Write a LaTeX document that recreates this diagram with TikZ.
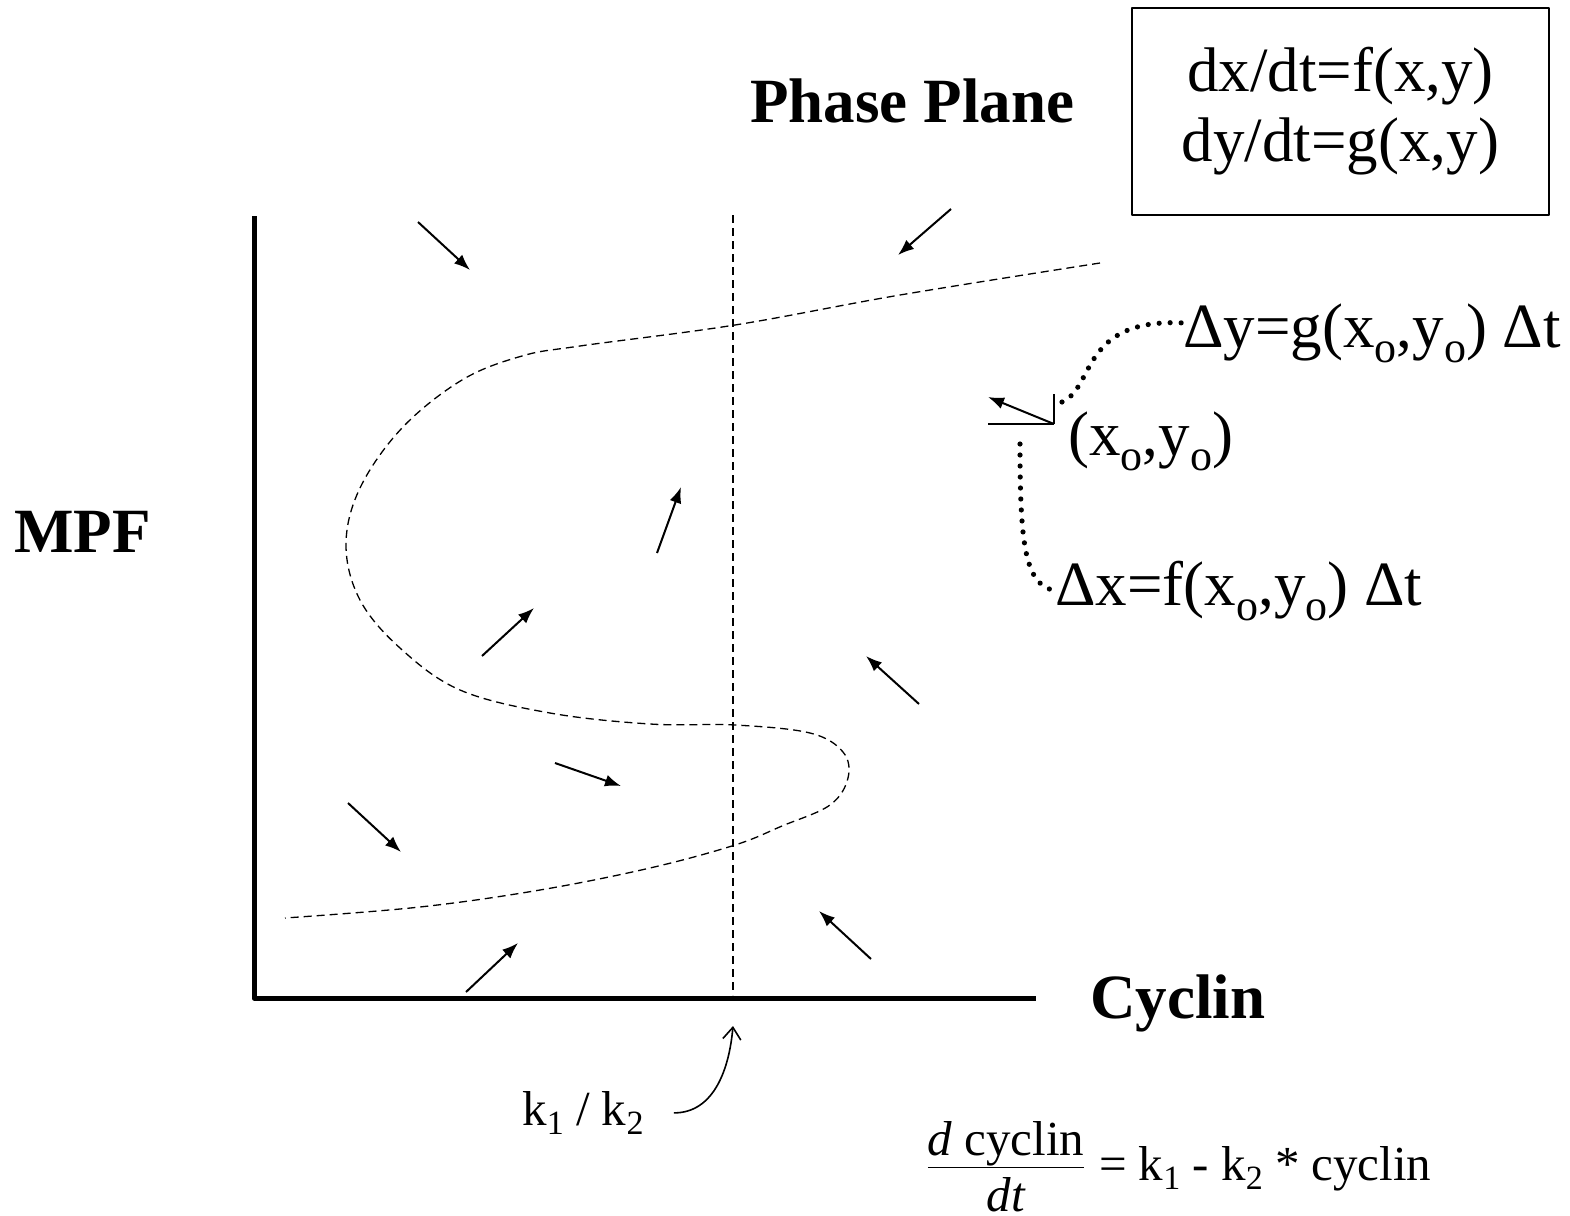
\documentclass[tikz,border=0pt]{standalone}
\usepackage{fontspec}
\setmainfont{Liberation Serif}
\usetikzlibrary{arrows.meta}

\newcommand{\bigtxt}{\fontsize{31.5}{35}\selectfont}
\newcommand{\smalltxt}{\fontsize{24.5}{30}\selectfont}
\newcommand{\subB}[1]{\raisebox{-0.24em}{\fontsize{22}{22}\selectfont #1}}
\newcommand{\subS}[1]{\raisebox{-0.2em}{\fontsize{17}{17}\selectfont #1}}

\begin{document}
\begin{tikzpicture}[x=0.5pt,y=-0.5pt,line join=round,
    field/.style={line width=1pt,-{Latex[length=8pt,width=6pt]}},
    nullcline/.style={line width=0.65pt,dash pattern=on 4pt off 2.5pt},
    dots/.style={line width=2.6pt,line cap=round,dash pattern=on 0pt off 5.5pt},
    axis/.style={line width=2.5pt},
    lbl/.style={inner sep=0pt,anchor=base west}]

  \useasboundingbox (0,0) rectangle (1570,1216);

  % ---- gli assi --------------------------------------------------------------
  \coordinate (origin) at (254,998);
  \draw[axis] (254,216) -- (origin) -- (1036,998);

  % ---- nomi degli assi e titolo ----------------------------------------------
  \node[lbl,font=\bigtxt\bfseries] (title) at (750,122) {Phase Plane};
  \node[lbl,font=\bigtxt\bfseries] (mpf) at (14,552) {MPF};
  \node[lbl,font=\bigtxt\bfseries] (cyclin) at (1090,1018) {Cyclin};

  % ---- il sistema ------------------------------------------------------------
  \node[draw,line width=0.8pt,minimum width=208.5pt,minimum height=103.5pt,
        align=center,font=\bigtxt] (eqs) at (1340.5,111.5)
        {dx/dt=f(x,y)\\dy/dt=g(x,y)};

  % ---- le nullcline ----------------------------------------------------------
  \draw[nullcline] (733,215) -- (733,995);
  \draw[nullcline] plot[smooth,tension=0.6] coordinates {
    (1100,263) (900,295) (735,325) (580,346) (522,356) (462,380) (402,428)
    (360,488) (346,545) (360,600) (400,648) (460,690) (550,713) (650,724)
    (735,725) (810,733) (843,752) (848,778) (830,805) (782,826) (735,845)
    (650,868) (540,890) (420,907) (285,918)};

  % ---- il campo di direzioni -------------------------------------------------
  \foreach \xa/\ya/\xb/\yb in {418/222/470/270, 951/209/898/255,
      657/553/681/487, 482/656/534/608, 919/704/866/656, 555/763/621/786,
      348/803/401/852, 871/959/819/911, 466/992/518/943}{
    \draw[field] (\xa,\ya) -- (\xb,\yb);
  }

  % ---- il passo da (xo,yo) ---------------------------------------------------
  \coordinate (p0) at (1054,424);
  \draw[line width=0.8pt] (p0) -- ++(-66,0);
  \draw[line width=0.8pt] (p0) -- ++(0,-30);
  \draw[field] (p0) -- (988,397);

  \node[lbl,font=\bigtxt] (pt) at (1068,455) {(x\subB{o},y\subB{o})};
  \node[lbl,font=\bigtxt] (dy) at (1183,347) {Δy=g(x\subB{o},y\subB{o}) Δt};
  \node[lbl,font=\bigtxt] (dx) at (1055,605) {Δx=f(x\subB{o},y\subB{o}) Δt};

  \draw[dots] (1062,402) .. controls (1095,388) and (1080,318) .. ([yshift=5pt]dy.west);
  \draw[dots] (1020,444) .. controls (1020,545) and (1025,585) .. (dx.west);

  % ---- k1/k2 e l'equazione della ciclina -------------------------------------
  \node[lbl,font=\smalltxt] (k) at (522,1125) {k\subS{1} / k\subS{2}};
  \coordinate (kk) at (733,1026);
  \draw[line width=0.8pt,-{Straight Barb[length=6pt,width=9pt]}]
    ([xshift=15pt]k.east) to[out=0,in=-95] (kk);

  \node[lbl,font=\smalltxt] (rate) at (925,1180)
    {$\frac{\mbox{\textit{d} cyclin}}{\mbox{\rule{0pt}{0.88em}\textit{dt}}}$ = k\subS{1} - k\subS{2} * cyclin};

\end{tikzpicture}
\end{document}
